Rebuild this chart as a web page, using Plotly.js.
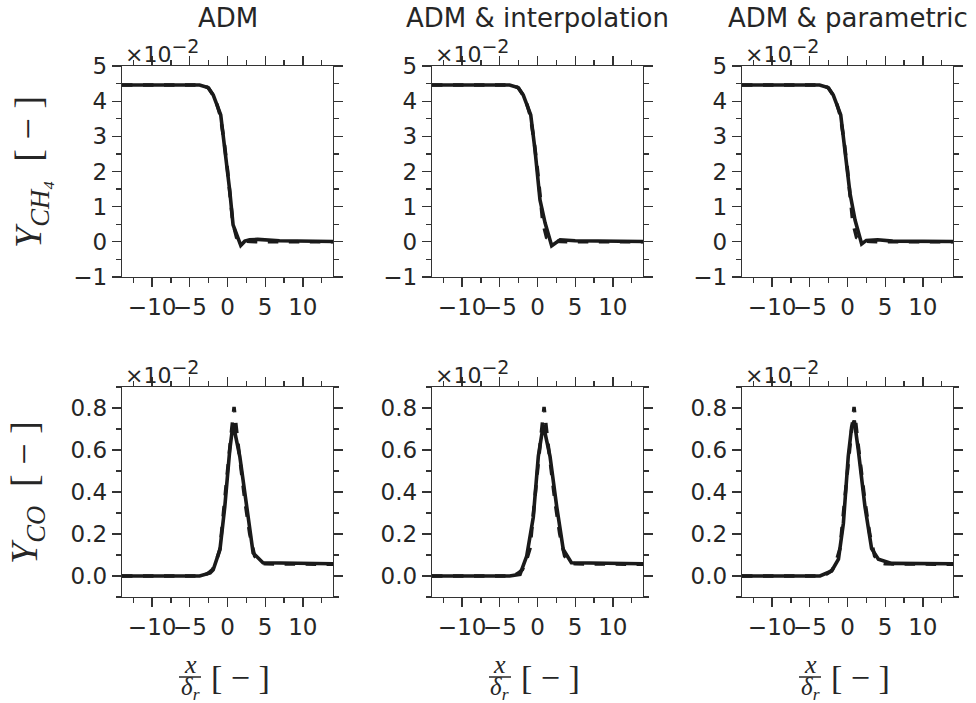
<!DOCTYPE html>
<html>
<head>
<meta charset="utf-8">
<script src="https://cdn.plot.ly/plotly-3.0.1.min.js"></script>
<style>html,body{margin:0;padding:0;background:#fff;}#chart{width:976px;height:703px;}</style>
</head>
<body>
<div id="chart"></div>
<script>
// ---- Data (Y values in units of 1e-2) ----
const panelTitles = ["ADM", "ADM & interpolation", "ADM & parametric"];

// Reference (dashed) curves, same in every column
const refCH4_x = [-14, -4, -3, -2.5, -2, -1.5, -1, -0.5, 0, 0.3, 0.7, 1.2, 1.8, 3, 4, 14];
const refCH4_y = [4.46, 4.46, 4.43, 4.37, 4.2, 3.98, 3.62, 2.95, 2.05, 1.45, 0.55, 0.12, 0.02, 0.01, 0.0, 0.0];
const refCO_x = [-14, -4, -3, -2.5, -2, -1.5, -1, -0.5, 0, 0.5, 0.87, 1.4, 2.0, 2.3, 2.95, 3.6, 4.2, 5, 14];
const refCO_y = [0, 0, 0.005, 0.015, 0.03, 0.07, 0.13, 0.3, 0.5, 0.68, 0.805, 0.63, 0.44, 0.36, 0.2, 0.095, 0.065, 0.058, 0.056];

// Model (solid) curves: ADM
const admCH4_x = [-14, -3.7, -2.6, -1.9, -0.9, -0.4, 0.3, 0.74, 1.76, 2.3, 2.94, 4.0, 6.9, 14];
const admCH4_y = [4.46, 4.46, 4.39, 4.18, 3.61, 2.75, 1.45, 0.48, -0.1, 0.02, 0.06, 0.07, 0.03, 0.01];
const admCO_x = [-14, -3.7, -2.3, -1.9, -1.0, -0.36, 0.3, 0.74, 1.63, 2.5, 3.4, 4.7, 9.5, 14];
const admCO_y = [0, 0, 0.015, 0.03, 0.126, 0.33, 0.6, 0.726, 0.57, 0.33, 0.11, 0.063, 0.06, 0.058];

// ADM & interpolation
const intCH4_x = [-14, -3.7, -2.6, -1.9, -0.9, -0.33, 0.33, 1.0, 1.88, 3.0, 5, 14];
const intCH4_y = [4.46, 4.46, 4.39, 4.18, 3.61, 2.61, 1.19, 0.54, -0.11, 0.06, 0.03, 0.01];
const intCO_x = [-14, -3.7, -2.32, -1.43, -0.56, 0.11, 0.77, 1.66, 2.55, 3.42, 4.5, 9, 14];
const intCO_y = [0, 0, 0.008, 0.095, 0.28, 0.57, 0.72, 0.57, 0.33, 0.126, 0.063, 0.06, 0.058];

// ADM & parametric
const parCH4_x = [-14, -3.7, -2.6, -1.9, -0.9, -0.33, 0.33, 1.0, 1.88, 2.5, 4.0, 6, 14];
const parCH4_y = [4.46, 4.46, 4.39, 4.18, 3.61, 2.61, 1.38, 0.62, -0.06, 0.04, 0.06, 0.02, 0.01];
const parCO_x = [-14, -3.65, -2.1, -1.2, -0.55, 0.1, 0.55, 0.9, 1.43, 2.32, 3.2, 4.1, 5.86, 14];
const parCO_y = [0, 0, 0.024, 0.08, 0.25, 0.57, 0.71, 0.74, 0.6, 0.33, 0.13, 0.08, 0.06, 0.058];

const xTickVals = [-10, -5, 0, 5, 10];
const yTopTicks = [-1, 0, 1, 2, 3, 4, 5];
const yBotTicks = [0.0, 0.2, 0.4, 0.6, 0.8];

// ---- Layout geometry ----
const W = 976, H = 703;
const colL = [122, 432, 742], colR = [333, 643, 953];
const rowT = [66, 387], rowB = [277, 597];
const px = v => v / W, py = v => 1 - v / H;

const solidCH4 = [[admCH4_x, admCH4_y], [intCH4_x, intCH4_y], [parCH4_x, parCH4_y]];
const solidCO = [[admCO_x, admCO_y], [intCO_x, intCO_y], [parCO_x, parCO_y]];

const lineCol = '#1a1a1a', axCol = '#333333', txtCol = '#262626';
const traces = [];
const layout = {
  width: W, height: H, margin: {l: 0, r: 0, t: 0, b: 0},
  paper_bgcolor: '#fff', plot_bgcolor: '#fff', showlegend: false,
  font: {family: 'DejaVu Sans', size: 23, color: txtCol},
  annotations: [], shapes: []
};

function axisBase() {
  return {
    showgrid: false, zeroline: false, showline: true, linecolor: axCol, linewidth: 1.3,
    mirror: 'ticks', ticks: 'outside', ticklen: 9, tickwidth: 1.3, tickcolor: axCol,
    tickfont: {family: 'DejaVu Sans', size: 23, color: txtCol}, tickangle: 0
  };
}

for (let r = 0; r < 2; r++) {
  for (let c = 0; c < 3; c++) {
    const k = r * 3 + c + 1;
    const xa = 'x' + (k === 1 ? '' : k), ya = 'y' + (k === 1 ? '' : k);
    const xk = 'xaxis' + (k === 1 ? '' : k), yk = 'yaxis' + (k === 1 ? '' : k);
    const ref = r === 0 ? [refCH4_x, refCH4_y] : [refCO_x, refCO_y];
    const sol = r === 0 ? solidCH4[c] : solidCO[c];
    traces.push({x: ref[0], y: ref[1], xaxis: xa, yaxis: ya, mode: 'lines', line: {color: lineCol, width: 3.5, dash: 'dash'}, hoverinfo: 'skip'});
    traces.push({x: sol[0], y: sol[1], xaxis: xa, yaxis: ya, mode: 'lines', line: {color: lineCol, width: 3.6}, hoverinfo: 'skip'});

    layout[xk] = Object.assign(axisBase(), {
      domain: [px(colL[c]), px(colR[c])], anchor: ya, range: [-14, 14],
      tickmode: 'array', tickvals: xTickVals,
      minor: {dtick: 2.5, tick0: 0, ticks: 'outside', ticklen: 5, tickwidth: 1.3, tickcolor: axCol}
    });
    if (r === 0) {
      layout[yk] = Object.assign(axisBase(), {
        domain: [py(rowB[0]), py(rowT[0])], anchor: xa, range: [-1, 5],
        tickmode: 'array', tickvals: yTopTicks,
        minor: {dtick: 0.5, tick0: 0, ticks: 'outside', ticklen: 5, tickwidth: 1.3, tickcolor: axCol}
      });
    } else {
      layout[yk] = Object.assign(axisBase(), {
        domain: [py(rowB[1]), py(rowT[1])], anchor: xa, range: [-0.1, 0.9],
        tickmode: 'array', tickvals: yBotTicks, ticktext: yBotTicks.map(v => v.toFixed(1)),
        minor: {dtick: 0.1, tick0: 0, ticks: 'outside', ticklen: 5, tickwidth: 1.3, tickcolor: axCol}
      });
    }
    // scale factor label
    layout.annotations.push({
      xref: 'paper', yref: 'paper', x: px(colL[c] + 1), y: py(rowT[r] + 3),
      xanchor: 'left', yanchor: 'bottom', showarrow: false,
      text: '×10<sup><span style="font-size:19px">−2</span></sup>', font: {family: 'DejaVu Sans', size: 22, color: txtCol}
    });
  }
}

// column titles and x-axis labels
for (let c = 0; c < 3; c++) {
  const mid = (colL[c] + colR[c]) / 2;
  layout.annotations.push({
    xref: 'paper', yref: 'paper', x: px(mid), y: py(18), xanchor: 'center', yanchor: 'middle',
    showarrow: false, text: panelTitles[c], font: {family: 'DejaVu Sans', size: 26, color: txtCol}
  });
  const fx = colL[c] + 68;
  layout.annotations.push({
    xref: 'paper', yref: 'paper', x: px(fx), y: py(664), xanchor: 'center', yanchor: 'middle',
    showarrow: false, text: '<i>x</i>', font: {family: 'Liberation Serif', size: 26, color: txtCol}
  });
  layout.annotations.push({
    xref: 'paper', yref: 'paper', x: px(fx), y: py(688), xanchor: 'center', yanchor: 'middle',
    showarrow: false, text: '<i>δ<sub>r</sub></i>', font: {family: 'Liberation Serif', size: 25, color: txtCol}
  });
  layout.shapes.push({
    type: 'line', xref: 'paper', yref: 'paper', x0: px(fx - 11), x1: px(fx + 11), y0: py(677), y1: py(677),
    line: {color: txtCol, width: 1.5}
  });
  layout.annotations.push({
    xref: 'paper', yref: 'paper', x: px(colL[c] + 118), y: py(677), xanchor: 'center', yanchor: 'middle',
    showarrow: false, text: '[ − ]', font: {family: 'Liberation Serif', size: 34, color: txtCol}
  });
}

// y-axis labels
layout.annotations.push({
  xref: 'paper', yref: 'paper', x: px(31), y: py(172), xanchor: 'center', yanchor: 'middle', textangle: -90,
  showarrow: false, text: '<i>Y<sub>CH₄</sub></i>  [ − ]', font: {family: 'Liberation Serif', size: 38, color: txtCol}
});
layout.annotations.push({
  xref: 'paper', yref: 'paper', x: px(27), y: py(493), xanchor: 'center', yanchor: 'middle', textangle: -90,
  showarrow: false, text: '<i>Y<sub>CO</sub></i>  [ − ]', font: {family: 'Liberation Serif', size: 38, color: txtCol}
});

Plotly.newPlot('chart', traces, layout, {staticPlot: true, displayModeBar: false});
</script>
</body>
</html>
